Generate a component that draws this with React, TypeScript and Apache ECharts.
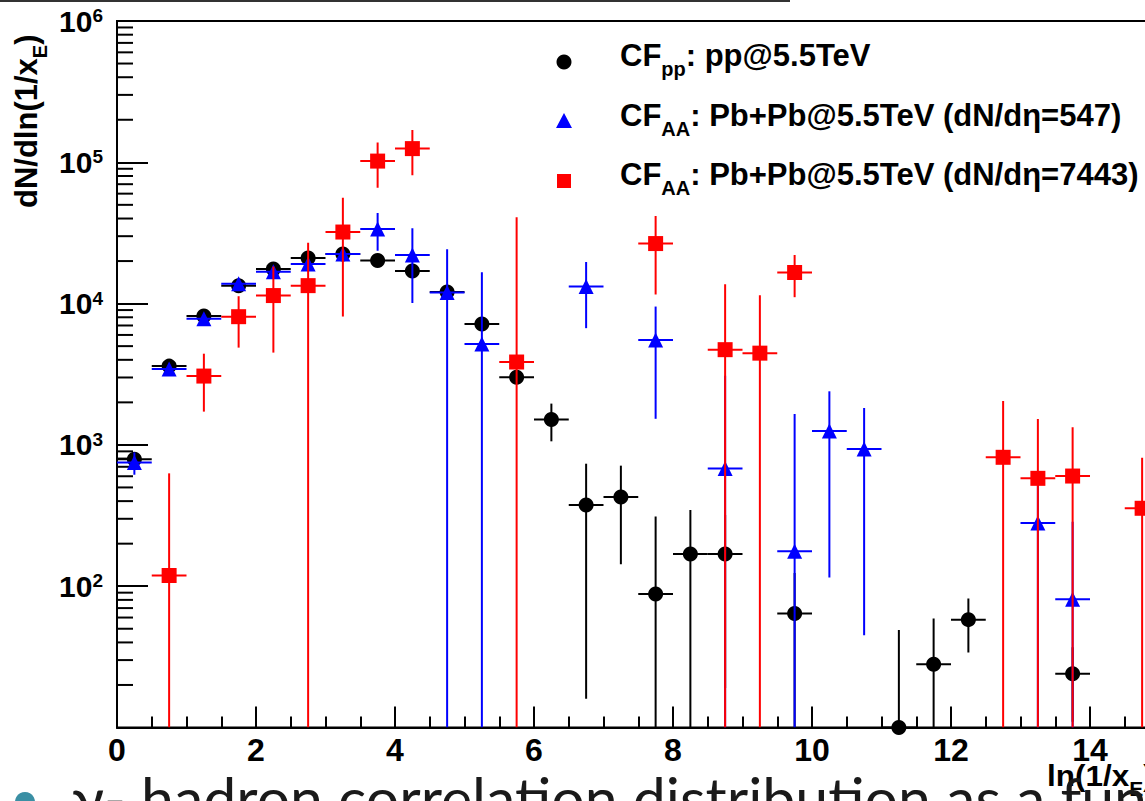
import React, { useEffect, useRef } from "react";
import * as echarts from "echarts";

// ---- data (bin centres, values, symmetric errors) ----
const ppX = [0.25, 0.75, 1.25, 1.75, 2.25, 2.75, 3.25, 3.75, 4.25, 4.75, 5.25, 5.75, 6.25, 6.75, 7.25, 7.75, 8.25, 8.75, 9.75, 11.25, 11.75, 12.25, 13.75];
const ppY = [790, 3610, 8170, 13400, 17600, 21000, 22400, 20200, 17000, 12100, 7180, 3010, 1510, 376, 428, 88, 169, 169, 64, 10, 28, 58, 24];
const ppErr = [40, 180, 400, 650, 850, 1000, 1100, 1000, 850, 600, 350, 150, 450, 360, 285, 224, 177, 150, 60, 39, 31, 24, 13];

const aa547X = [0.25, 0.75, 1.25, 1.75, 2.25, 2.75, 3.25, 3.75, 4.25, 4.75, 5.25, 6.75, 7.75, 8.75, 9.75, 10.25, 10.75, 13.25, 13.75];
const aa547Y = [750, 3440, 7820, 13800, 16800, 19100, 22400, 33700, 22100, 12000, 5180, 13200, 5530, 680, 177, 1255, 935, 280, 81];
const aa547Err = [135, 200, 400, 700, 900, 1000, 1500, 10000, 12000, 12200, 11500, 6500, 4000, 2400, 1480, 1140, 890, 300, 205];

const aa7443X = [0.75, 1.25, 1.75, 2.25, 2.75, 3.25, 3.75, 4.25, 5.75, 7.75, 8.75, 9.25, 9.75, 12.75, 13.25, 13.75, 14.75];
const aa7443Y = [119, 3070, 8080, 11400, 13400, 32100, 102000, 125000, 3860, 26600, 4720, 4460, 16600, 817, 580, 602, 356];
const aa7443Err = [510, 1350, 3200, 6900, 13600, 24000, 36000, 44000, 37000, 15000, 9000, 7000, 5500, 1230, 945, 730, 456];

const BIN_HALF_WIDTH = 0.25;
const X_MIN = 0;
const X_MAX = 15;
const Y_MIN = 10;
const Y_MAX = 1e6;

const xTickLabels = ["0", "2", "4", "6", "8", "10", "12", "14"];
const yTickExponents = ["2", "3", "4", "5", "6"];
const yMinorMantissas = [2, 3, 4, 5, 6, 7, 8, 9];
const yDecades = [10, 100, 1000, 10000, 100000];

const legendLabels = [
  "{m|CF}{s|pp}{m|: pp@5.5TeV}",
  "{m|CF}{s|AA}{m|: Pb+Pb@5.5TeV (dN/dη=547)}",
  "{m|CF}{s|AA}{m|: Pb+Pb@5.5TeV (dN/dη=7443)}",
];
const yTitle = "{m|dN/dln(1/x}{s|E}{m|)}";
const xTitle = "{m|ln(1/x}{s|E}{m|)}";
const slideText = "γ- hadron correlation distribution as a function of ln(1/xE)";

const FONT = "'Liberation Sans', Arial, Helvetica, sans-serif";

function errorSeries(xs: number[], ys: number[], es: number[], color: string, z: number) {
  return {
    type: "custom",
    z,
    silent: true,
    clip: true,
    encode: { x: 0, y: 1 },
    data: xs.map((x, i) => [x, ys[i], es[i]]),
    renderItem: (_params: any, api: any) => {
      const x = api.value(0);
      const y = api.value(1);
      const e = api.value(2);
      const lo = Math.max(y - e, Y_MIN);
      const hi = Math.min(y + e, Y_MAX);
      const a = api.coord([x, lo]);
      const b = api.coord([x, hi]);
      const l = api.coord([x - BIN_HALF_WIDTH, Math.max(y, Y_MIN)]);
      const r = api.coord([x + BIN_HALF_WIDTH, Math.max(y, Y_MIN)]);
      return {
        type: "group",
        children: [
          { type: "line", shape: { x1: a[0], y1: a[1], x2: b[0], y2: b[1] }, style: { stroke: color, lineWidth: 2 } },
          { type: "line", shape: { x1: l[0], y1: l[1], x2: r[0], y2: r[1] }, style: { stroke: color, lineWidth: 2 } },
        ],
      };
    },
  };
}

function markerSeries(name: string, xs: number[], ys: number[], symbol: string, color: string, z: number) {
  return {
    name,
    type: "scatter",
    z,
    symbol,
    symbolSize: 15,
    itemStyle: { color, opacity: 1 },
    data: xs.map((x, i) => [x, ys[i]]),
  };
}

const mainRich = (size: number) => ({
  m: { fontFamily: FONT, fontWeight: "bold", fontSize: size, lineHeight: size, verticalAlign: "top", color: "#000" },
  s: {
    fontFamily: FONT,
    fontWeight: "bold",
    fontSize: Math.round(size * 0.66),
    lineHeight: Math.round(size * 0.66),
    verticalAlign: "top",
    padding: [Math.round(size * 0.6), 0, 0, 0],
    color: "#000",
  },
});

export default function App() {
  const ref = useRef<HTMLDivElement>(null);

  useEffect(() => {
    if (!ref.current) return;
    const chart = echarts.init(ref.current, undefined, { renderer: "svg" });

    const minorTicks: number[][] = [];
    yDecades.forEach((d) => yMinorMantissas.forEach((m) => minorTicks.push([X_MIN, m * d])));

    const legendTops = [40, 99.5, 159];

    const option: any = {
      animation: false,
      backgroundColor: "#fff",
      grid: {
        left: 117,
        top: 21,
        width: 1042.5,
        height: 706.5,
        show: true,
        borderColor: "#000",
        borderWidth: 2,
      },
      xAxis: {
        type: "value",
        min: X_MIN,
        max: X_MAX,
        interval: 2,
        axisLine: { show: true, onZero: false, lineStyle: { color: "#000", width: 2 } },
        axisTick: { show: true, inside: true, length: 21, lineStyle: { color: "#000", width: 2 } },
        minorTick: { show: true, splitNumber: 4, length: 11, lineStyle: { color: "#000", width: 2 } },
        splitLine: { show: false },
        axisLabel: {
          margin: 6,
          fontFamily: FONT,
          fontWeight: "bold",
          fontSize: 32,
          lineHeight: 32,
          color: "#000",
          showMaxLabel: false,
          formatter: (v: number) => {
            const idx = xTickLabels.indexOf(String(v));
            return idx >= 0 ? xTickLabels[idx] : "";
          },
        },
      },
      yAxis: {
        type: "log",
        logBase: 10,
        min: Y_MIN,
        max: Y_MAX,
        axisLine: { show: true, lineStyle: { color: "#000", width: 2 } },
        axisTick: { show: true, inside: true, length: 31, lineStyle: { color: "#000", width: 2 } },
        splitLine: { show: false },
        axisLabel: {
          margin: 14,
          formatter: (v: number) => {
            const e = String(Math.round(Math.log10(v)));
            return yTickExponents.indexOf(e) >= 0 ? `{b|10}{p|${e}}` : "";
          },
          rich: {
            b: { fontFamily: FONT, fontWeight: "bold", fontSize: 30, lineHeight: 30, padding: [4, 0, 0, 0], verticalAlign: "bottom", color: "#000" },
            p: { fontFamily: FONT, fontWeight: "bold", fontSize: 19, lineHeight: 19, verticalAlign: "top", color: "#000" },
          },
        },
      },
      series: [
        {
          type: "custom",
          silent: true,
          z: 1,
          encode: { x: 0, y: 1 },
          data: minorTicks,
          renderItem: (_p: any, api: any) => {
            const p = api.coord([api.value(0), api.value(1)]);
            return { type: "line", shape: { x1: p[0], y1: p[1], x2: p[0] + 16, y2: p[1] }, style: { stroke: "#000", lineWidth: 2 } };
          },
        },
        errorSeries(ppX, ppY, ppErr, "#000000", 2),
        markerSeries("CFpp", ppX, ppY, "circle", "#000000", 3),
        errorSeries(aa547X, aa547Y, aa547Err, "#0000ff", 4),
        markerSeries("CFAA547", aa547X, aa547Y, "triangle", "#0000ff", 5),
        errorSeries(aa7443X, aa7443Y, aa7443Err, "#ff0000", 6),
        markerSeries("CFAA7443", aa7443X, aa7443Y, "rect", "#ff0000", 7),
      ],
      graphic: [
        // slide decoration line at the very top
        { type: "line", shape: { x1: 0, y1: 1, x2: 790, y2: 1 }, style: { stroke: "#333", lineWidth: 2 }, z: 10 },
        // legend markers
        { type: "circle", shape: { cx: 564, cy: 62, r: 7.5 }, style: { fill: "#000" }, z: 10 },
        { type: "polygon", shape: { points: [[564, 113], [572, 128], [556, 128]] }, style: { fill: "#0000ff" }, z: 10 },
        { type: "rect", shape: { x: 557, y: 174, width: 14, height: 14 }, style: { fill: "#ff0000" }, z: 10 },
        // legend texts
        ...legendLabels.map((t, i) => ({
          type: "text",
          x: 620,
          y: legendTops[i],
          z: 10,
          style: { text: t, rich: mainRich(31), align: "left", verticalAlign: "top" },
        })),
        // y-axis title (rotated)
        {
          type: "text",
          x: 11,
          y: 208,
          rotation: Math.PI / 2,
          z: 10,
          style: { text: yTitle, rich: mainRich(31), align: "left", verticalAlign: "top" },
        },
        // x-axis title
        {
          type: "text",
          x: 1047,
          y: 761,
          scaleX: 1.05,
          z: 10,
          style: { text: xTitle, rich: mainRich(30), align: "left", verticalAlign: "top" },
        },
        // slide bullet + text overlapping the bottom
        { type: "circle", shape: { cx: 25, cy: 802, r: 10 }, style: { fill: "#3a8fa4" }, z: 20 },
        {
          type: "text",
          x: 72,
          y: 779.5,
          z: 20,
          style: {
            text: slideText,
            fontFamily: "Lato, 'Open Sans', sans-serif",
            fontSize: 59,
            lineHeight: 36,
            fill: "#1a1a1a",
            align: "left",
            verticalAlign: "top",
          },
        },
      ],
    };

    chart.setOption(option);
    return () => chart.dispose();
  }, []);

  return (
    <div style={{ position: "fixed", left: 0, top: 0, width: 1145, height: 801, overflow: "hidden", background: "#fff" }}>
      <div ref={ref} style={{ width: 1180, height: 801 }} />
    </div>
  );
}
